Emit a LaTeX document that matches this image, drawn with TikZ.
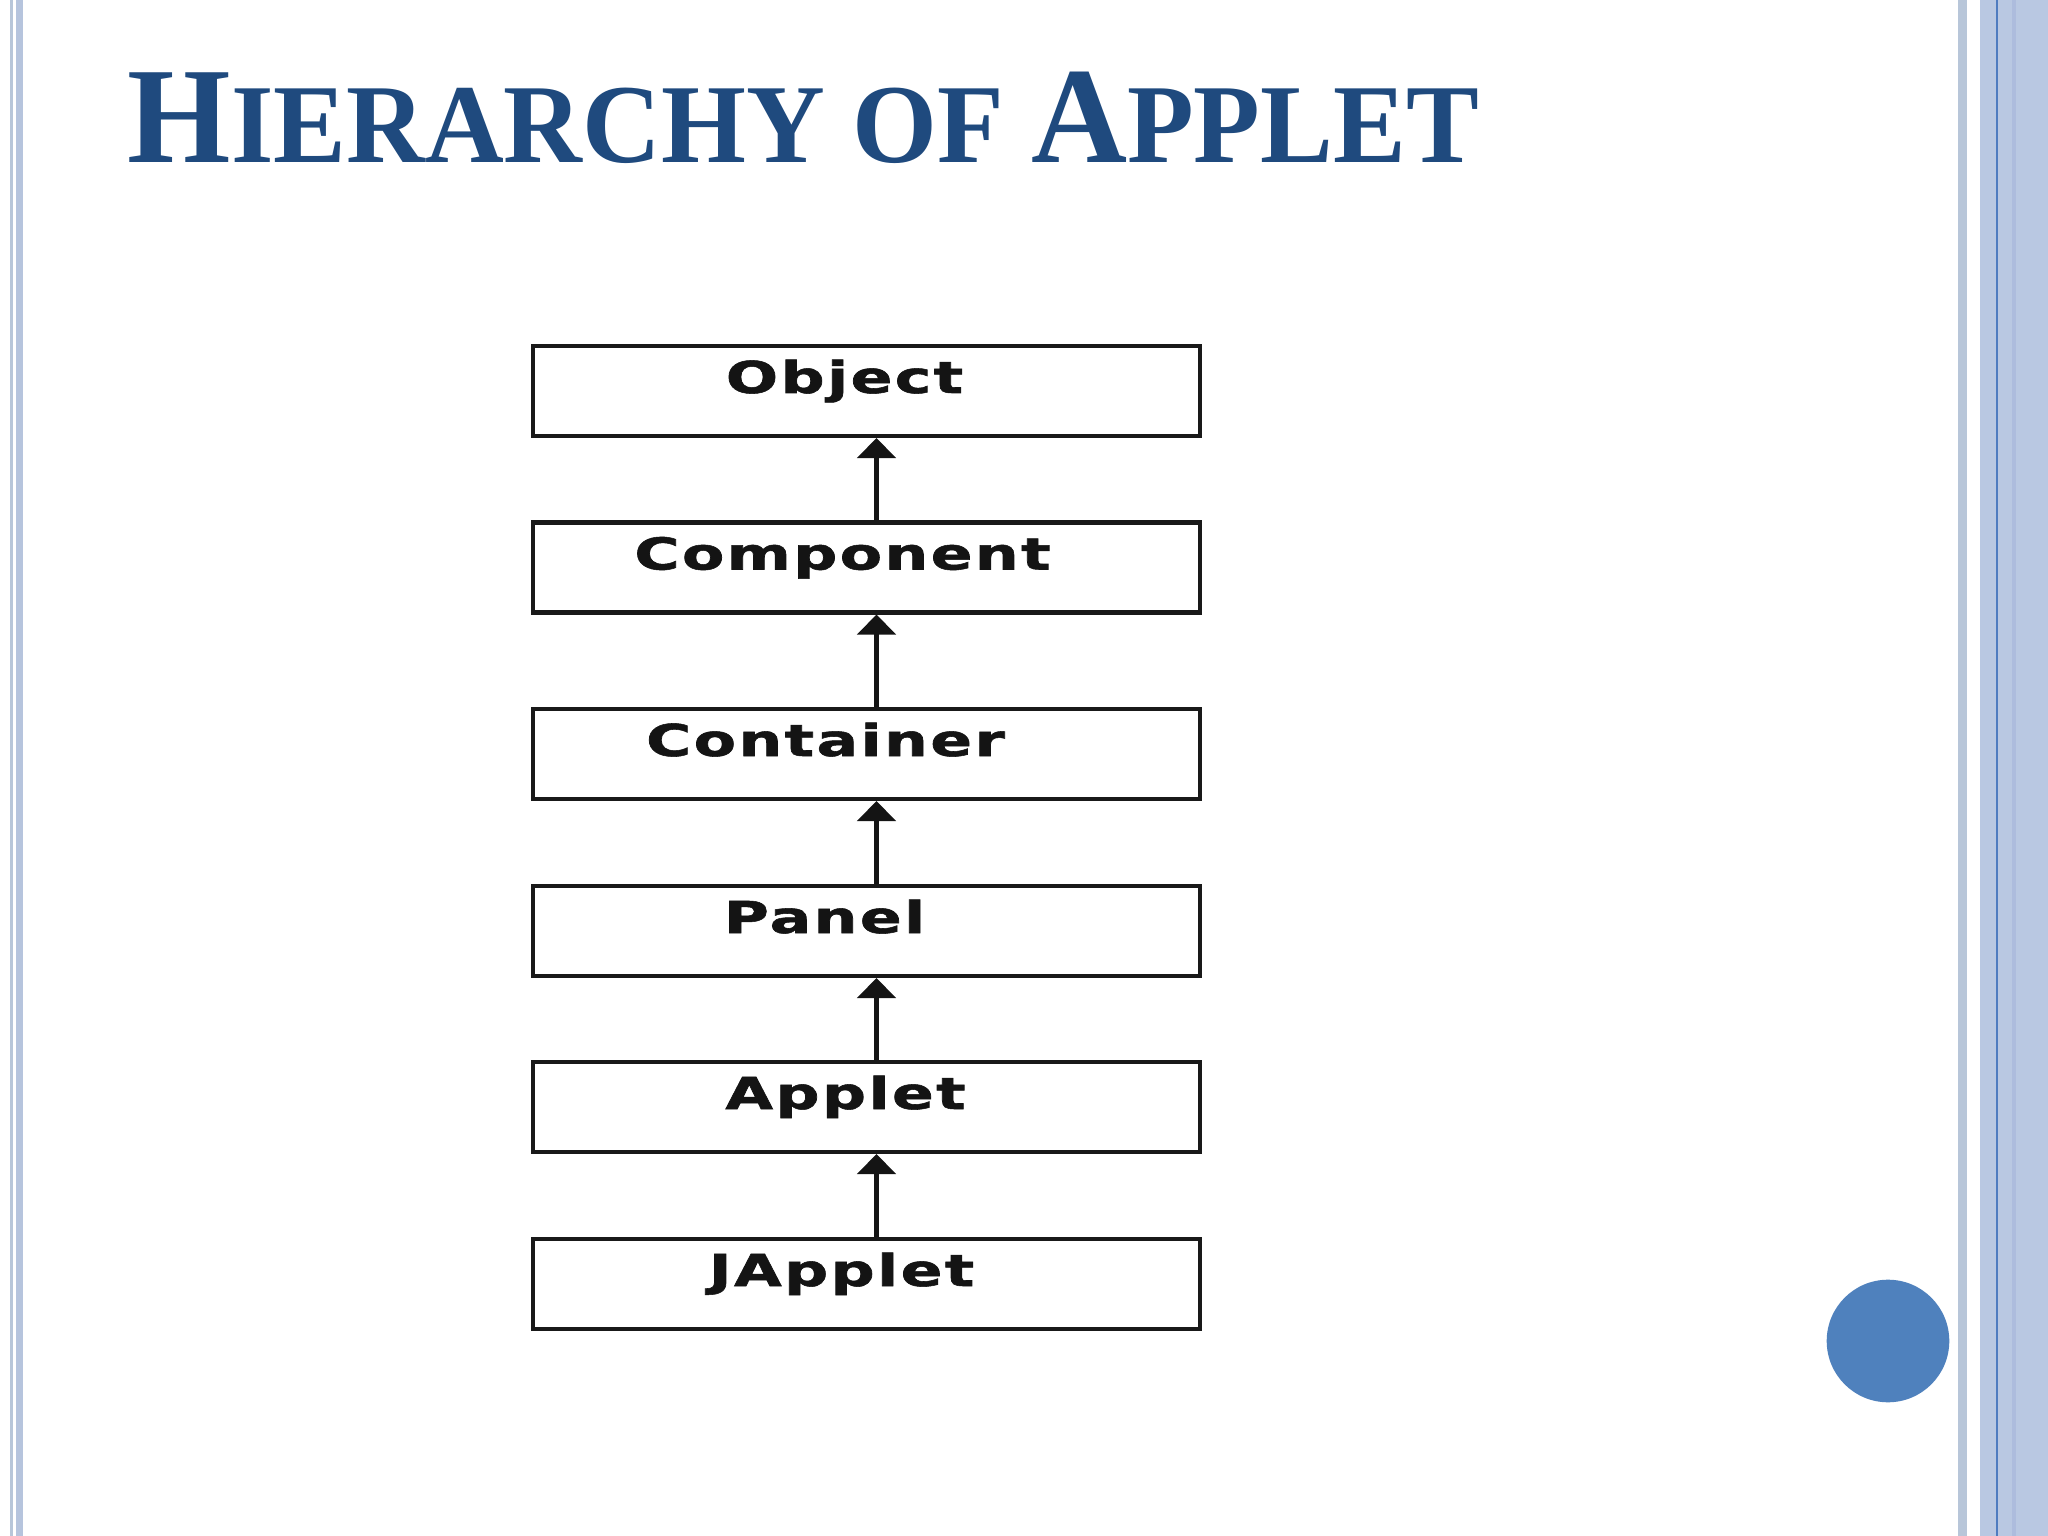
\documentclass[tikz,border=0pt]{standalone}
\usepackage{fontspec}
\setmainfont{Liberation Serif}
\newfontfamily\labelfont{DejaVu Sans}[LetterSpace=4, FakeBold=1.2]
\usetikzlibrary{arrows.meta}

\definecolor{titleblue}{HTML}{1F4A7E}
\definecolor{railgray}{HTML}{B8C6D9}
\definecolor{railblue}{HTML}{B9C8E2}
\definecolor{raildark}{HTML}{4F7CC0}
\definecolor{railmid}{HTML}{ADBCDD}
\definecolor{dotblue}{HTML}{4F81BD}

\begin{document}
\begin{tikzpicture}[
            x=1cm, y=-1cm,
            declare function={
                BoxX=8.665;
                Width=20.48;
                Height=15.36;
            },
            classbox/.style={draw=black!90, line width=1.15pt, minimum width=6.67cm, minimum height=0.9cm, inner sep=0pt},
            classtext/.style={anchor=base, inner sep=0pt, font=\labelfont\bfseries\fontsize{12.5}{14}\selectfont, text=black!92},
            inherit/.style={-{Triangle[width=0.38cm, length=0.2cm]}, line width=1.35pt, black!92}
        ]
            \useasboundingbox (0, 0) rectangle (Width, Height);
            \fill[white] (0, 0) rectangle (Width, Height);

            % side rails
            \fill[railgray] (0.10, 0) rectangle (0.13, Height);
            \fill[railblue!95!gray] (0.157, 0) rectangle (0.233, Height);
            \fill[railgray] (19.58, 0) rectangle (19.67, Height);
            \fill[railblue] (19.80, 0) rectangle (Width, Height);
            \fill[railmid] (20.12, 0) rectangle (20.16, Height);
            \draw[raildark, line width=0.5pt] (19.967, 0) -- (19.967, Height);

            \fill[dotblue] (18.88, 13.41) circle (0.613);

            \node[anchor=base west, inner sep=0pt, text=titleblue, font=\bfseries] (title) at (1.27, 1.63)
                {\scalebox{0.97}[1]{\fontsize{39}{39}\selectfont H\fontsize{32}{32}\selectfont IERARCHY OF \fontsize{39}{39}\selectfont A\fontsize{32}{32}\selectfont PPLET}};

            \foreach \name/\txt/\ypos/\dx in {object/Object/3.91/-0.22, component/Component/5.675/-0.24,
                    container/Container/7.54/-0.41, panel/Panel/9.31/-0.42,
                    applet/Applet/11.07/-0.21, japplet/JApplet/12.84/-0.25} {
                \node[classbox] (\name) at (BoxX, \ypos) {};
                \node[classtext] (\name-text) at ([xshift=\dx cm, yshift=-0.02cm]\name.center) {\scalebox{1.4}[1]{\txt}};
            }

            \foreach \low/\high in {component/object, container/component, panel/container, applet/panel, japplet/applet}
                \draw[inherit] ([xshift=0.1cm]\low.north) -- ([xshift=0.1cm]\high.south);
        \end{tikzpicture}
\end{document}
